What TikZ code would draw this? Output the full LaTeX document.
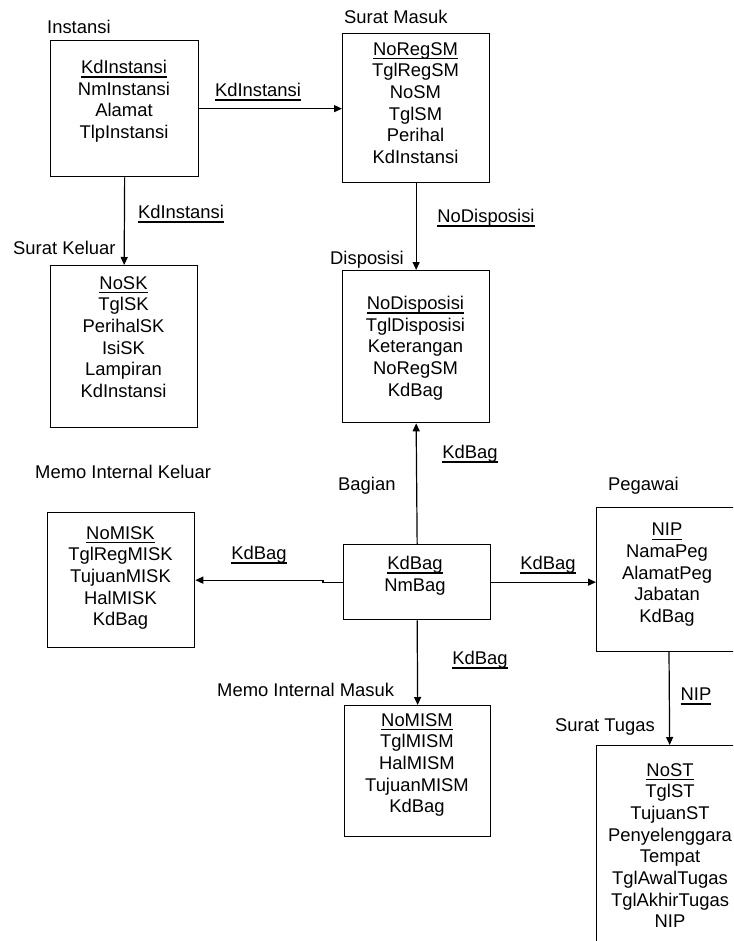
\documentclass[tikz,border=0pt]{standalone}
\usepackage{fontspec}
\setmainfont{Liberation Sans}
\usetikzlibrary{arrows.meta}
\newcommand\keyul[1]{{\setbox0\hbox{#1}\rlap{\rule[-4.2pt]{\wd0}{1.4pt}}\box0}}
\tikzset{
  box/.style={draw, line width=1.3pt, anchor=north west, inner sep=0pt},
  attr/.style={anchor=north, align=center, inner sep=0pt, font=\fontsize{18.4}{21.7}\selectfont},
  lbl/.style={anchor=base west, inner sep=0pt, font=\fontsize{18.4}{21.7}\selectfont},
  rel/.style={anchor=base, inner sep=0pt, font=\fontsize{18.4}{21.7}\selectfont},
  con/.style={line width=1.2pt, -{Triangle[length=8pt,width=7pt]}}
}
\begin{document}
\begin{tikzpicture}[x=1pt,y=-1pt]
\clip (0,0) rectangle (733,941);
\fill[white] (0,0) rectangle (733,941);
% boxes
\node[box, minimum width=148pt, minimum height=136pt] (inst) at (50,40) {};
\node[box, minimum width=147pt, minimum height=149pt] (sm) at (342,33) {};
\node[box, minimum width=147pt, minimum height=152pt] (disp) at (342,270) {};
\node[box, minimum width=147pt, minimum height=162pt] (sk) at (50,265) {};
\node[box, minimum width=147pt, minimum height=135pt] (misk) at (47,512) {};
\node[box, minimum width=147pt, minimum height=75pt] (bag) at (343,544) {};
\node[box, minimum width=146pt, minimum height=131pt] (mism) at (344,705) {};
\node[box, minimum width=146pt, minimum height=144pt] (peg) at (596,507) {};
\node[box, minimum width=146pt, minimum height=215pt] (st) at (596,745) {};
% attributes
\node[attr] (instA) at (124,60) {\keyul{KdInstansi}\\NmInstansi\\Alamat\\TlpInstansi};
\node[attr] (smA) at (415.5,42) {\keyul{NoRegSM}\\TglRegSM\\NoSM\\TglSM\\Perihal\\KdInstansi};
\node[attr] (dispA) at (415.5,296) {\keyul{NoDisposisi}\\TglDisposisi\\Keterangan\\NoRegSM\\KdBag};
\node[attr] (skA) at (123.5,276) {\keyul{NoSK}\\TglSK\\PerihalSK\\IsiSK\\Lampiran\\KdInstansi};
\node[attr] (miskA) at (120.5,526) {\keyul{NoMISK}\\TglRegMISK\\TujuanMISK\\HalMISK\\KdBag};
\node[attr] (bagA) at (415,556) {\keyul{KdBag}\\NmBag};
\node[attr] (mismA) at (417,713) {\keyul{NoMISM}\\TglMISM\\HalMISM\\TujuanMISM\\KdBag};
\node[attr] (pegA) at (667,523) {\keyul{NIP}\\NamaPeg\\AlamatPeg\\Jabatan\\KdBag};
\node[attr] (stA) at (670,763) {\keyul{NoST}\\TglST\\TujuanST\\Penyelenggara\\Tempat\\TglAwalTugas\\TglAkhirTugas\\NIP};
% entity names
\node[lbl] (instL) at (47,33.5) {Instansi};
\node[lbl] (smL) at (344,23.5) {Surat Masuk};
\node[lbl] (dispL) at (330,264.5) {Disposisi};
\node[lbl] (skL) at (13,254.5) {Surat Keluar};
\node[lbl] (miskL) at (35,478.5) {Memo Internal Keluar};
\node[lbl] (bagL) at (338,490.5) {Bagian};
\node[lbl] (pegL) at (608,490.5) {Pegawai};
\node[lbl] (mismL) at (217,696.5) {Memo Internal Masuk};
\node[lbl] (stL) at (555,731.5) {Surat Tugas};
% connectors
\draw[con] (inst.east) -- (inst.east -| sm.west);
\draw[con] (sm.south) -- (disp.north);
\draw[con] (inst.south) -- (sk.north);
\draw[con] (bag.north) -- (disp.south);
\draw[con] (bag.west) -- ++(-20,0) |- (misk.east);
\draw[con] (bag.east) -- (bag.east -| peg.west);
\draw[con] (bag.south) -- (mism.north);
\coordinate (pegS) at (669,651);
\draw[con] (pegS) -- (st.north);
% connector labels
\node[rel] (r1) at (258,96.5) {\keyul{KdInstansi}};
\node[rel] (r2) at (181,218.5) {\keyul{KdInstansi}};
\node[rel] (r3) at (486,222.5) {\keyul{NoDisposisi}};
\node[rel] (r4) at (470,458.5) {\keyul{KdBag}};
\node[rel] (r5) at (259,559.5) {\keyul{KdBag}};
\node[rel] (r6) at (548,569.5) {\keyul{KdBag}};
\node[rel] (r7) at (480,664.5) {\keyul{KdBag}};
\node[rel] (r8) at (696,700.5) {\keyul{NIP}};
\end{tikzpicture}
\end{document}
